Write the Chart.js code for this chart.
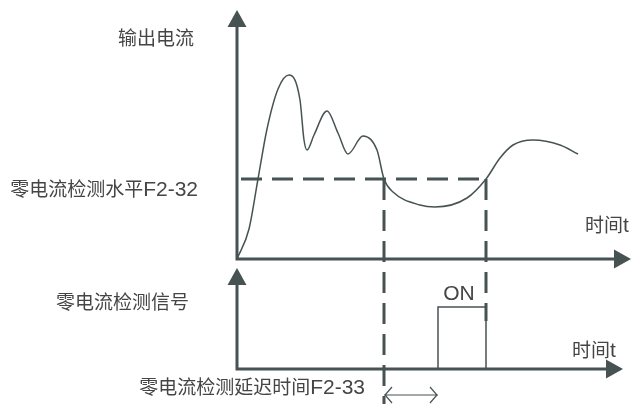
<!DOCTYPE html>
<html>
<head>
<meta charset="utf-8">
<script src="https://cdn.jsdelivr.net/npm/chart.js@4.4.1/dist/chart.umd.min.js"></script>
<style>
  html, body { margin: 0; padding: 0; background: #fff; }
  #wrap { width: 634px; height: 404px; position: relative; }
</style>
</head>
<body>
<div id="wrap"><canvas id="grafico"></canvas></div>
<script>
// 输出电流曲线 (时间, 电流)
const curveTime = [0, 12, 21, 30, 41, 52, 63, 67, 70, 77, 90, 101, 111, 126, 140, 147, 156, 183, 198, 230, 249, 263, 276, 296, 323, 341];
const curveCurrent = [0, 30, 80, 130, 170, 184, 159, 119, 109, 124, 148, 126, 105, 123, 109, 80, 67, 54, 52, 61, 80, 101, 114, 119, 114, 105];

// 零电流检测水平 F2-32 和它与曲线的交点时间
const zeroLevel = 80;
const crossTimes = [147, 249];
// 零电流检测延迟时间 F2-33
const delayTime = 54;
// 检测信号: 0 = OFF, 1 = ON
const signalTime = [crossTimes[0] + delayTime, crossTimes[0] + delayTime, crossTimes[1], crossTimes[1]];
const signalState = [0, 1, 1, 0];

// 坐标轴长度
const timeAxisEnd = [394, 386];
const currentAxisTop = 249;

// 文字
const labels = {
  current: '输出电流',
  level: '零电流检测水平F2-32',
  time: '时间t',
  signal: '零电流检测信号',
  on: 'ON',
  delay: '零电流检测延迟时间F2-33'
};

// 版面 (下方信号图的位置)
const SIG_BASE = -110, SIG_HIGH = 62, SIG_TOP = -9;
const COR = '#475253';
const TXT = '#454545';

function pts(xs, ys) {
  return xs.map((x, i) => ({ x: x, y: ys[i] }));
}

function drawMixed(ctx, text, x, y, align) {
  const runs = text.match(/[\x00-\x7f]+|[^\x00-\x7f]+/g);
  const fontFor = s => /[\x00-\x7f]/.test(s[0]) ? '21px "Liberation Sans", Arial, sans-serif' : '19px "Noto Sans CJK SC", sans-serif';
  let total = 0;
  runs.forEach(r => { ctx.font = fontFor(r); total += ctx.measureText(r).width; });
  let cx = align === 'right' ? x - total : (align === 'center' ? x - total / 2 : x);
  runs.forEach(r => {
    ctx.font = fontFor(r);
    ctx.fillText(r, cx, y);
    cx += ctx.measureText(r).width;
  });
}

function arrowHead(ctx, px, py, dir) {
  const len = 17, half = 9.5;
  ctx.beginPath();
  if (dir === 'up') {
    ctx.moveTo(px, py);
    ctx.lineTo(px - half, py + len);
    ctx.lineTo(px + half, py + len);
  } else {
    ctx.moveTo(px, py);
    ctx.lineTo(px - len, py - half);
    ctx.lineTo(px - len, py + half);
  }
  ctx.closePath();
  ctx.fill();
}

const decoracao = {
  id: 'decoracao',
  afterDatasetsDraw(chart) {
    const ctx = chart.ctx;
    const sx = chart.scales.x, sy = chart.scales.y;
    const X = v => sx.getPixelForValue(v);
    const Y = v => sy.getPixelForValue(v);
    ctx.save();
    ctx.fillStyle = COR;
    // pontas das setas dos eixos
    arrowHead(ctx, X(0), Y(currentAxisTop), 'up');
    arrowHead(ctx, X(timeAxisEnd[0]), Y(0), 'right');
    arrowHead(ctx, X(0), Y(SIG_TOP), 'up');
    arrowHead(ctx, X(timeAxisEnd[1]), Y(SIG_BASE), 'right');

    // seta dupla do atraso
    const ya = Y(-136), x1 = X(crossTimes[0]), x2 = X(crossTimes[0] + delayTime);
    ctx.strokeStyle = COR;
    ctx.lineWidth = 1.2;
    ctx.beginPath();
    ctx.moveTo(x1, ya); ctx.lineTo(x2, ya);
    ctx.moveTo(x1 + 8, ya - 8); ctx.lineTo(x1 + 1, ya); ctx.lineTo(x1 + 8, ya + 8);
    ctx.moveTo(x2 - 8, ya - 8); ctx.lineTo(x2 - 1, ya); ctx.lineTo(x2 - 8, ya + 8);
    ctx.stroke();

    // textos
    ctx.fillStyle = TXT;
    ctx.textBaseline = 'alphabetic';
    drawMixed(ctx, labels.current, X(-43), Y(214.5), 'right');
    drawMixed(ctx, labels.level, X(-39), Y(63.5), 'right');
    drawMixed(ctx, labels.time, X(348), Y(27), 'left');
    drawMixed(ctx, labels.signal, X(-48), Y(-49.5), 'right');
    drawMixed(ctx, labels.on, X(222), Y(-40.5), 'center');
    drawMixed(ctx, labels.time, X(335), Y(-98), 'left');
    drawMixed(ctx, labels.delay, X(128), Y(-135), 'right');
    ctx.restore();
  }
};

const linha = (data, extra) => Object.assign({
  data: data,
  showLine: true,
  pointRadius: 0,
  borderColor: COR,
  borderWidth: 3,
  borderJoinStyle: 'miter',
  borderCapStyle: 'butt',
  fill: false
}, extra || {});

const ctx = document.getElementById('grafico').getContext('2d');
window.myChart = new Chart(ctx, {
  type: 'scatter',
  data: {
    datasets: [
      // curva da corrente
      linha(pts(curveTime, curveCurrent), { borderWidth: 1.5, cubicInterpolationMode: 'monotone' }),
      // nível de detecção (tracejado)
      linha(pts([4, crossTimes[1]], [zeroLevel, zeroLevel]), { borderDash: [21, 10] }),
      linha(pts([crossTimes[0], crossTimes[0]], [zeroLevel, -145]), { borderDash: [21, 10] }),
      linha(pts([crossTimes[1], crossTimes[1]], [zeroLevel, SIG_BASE + SIG_HIGH - 14]), { borderDash: [21, 10] }),
      // sinal de detecção
      linha(pts(signalTime, signalState.map(s => SIG_BASE + s * SIG_HIGH)), { borderWidth: 1.5 }),
      // eixos
      linha(pts([0, 0, timeAxisEnd[0] - 12], [currentAxisTop - 12, 0, 0])),
      linha(pts([0, 0, timeAxisEnd[1] - 12], [SIG_TOP - 12, SIG_BASE, SIG_BASE]))
    ]
  },
  options: {
    responsive: true,
    maintainAspectRatio: false,
    animation: false,
    events: [],
    layout: { padding: 0 },
    scales: {
      x: { type: 'linear', min: -237, max: 397, display: false },
      y: { type: 'linear', min: -145, max: 259, display: false }
    },
    plugins: {
      legend: { display: false },
      tooltip: { enabled: false }
    }
  },
  plugins: [decoracao]
});
</script>
</body>
</html>
